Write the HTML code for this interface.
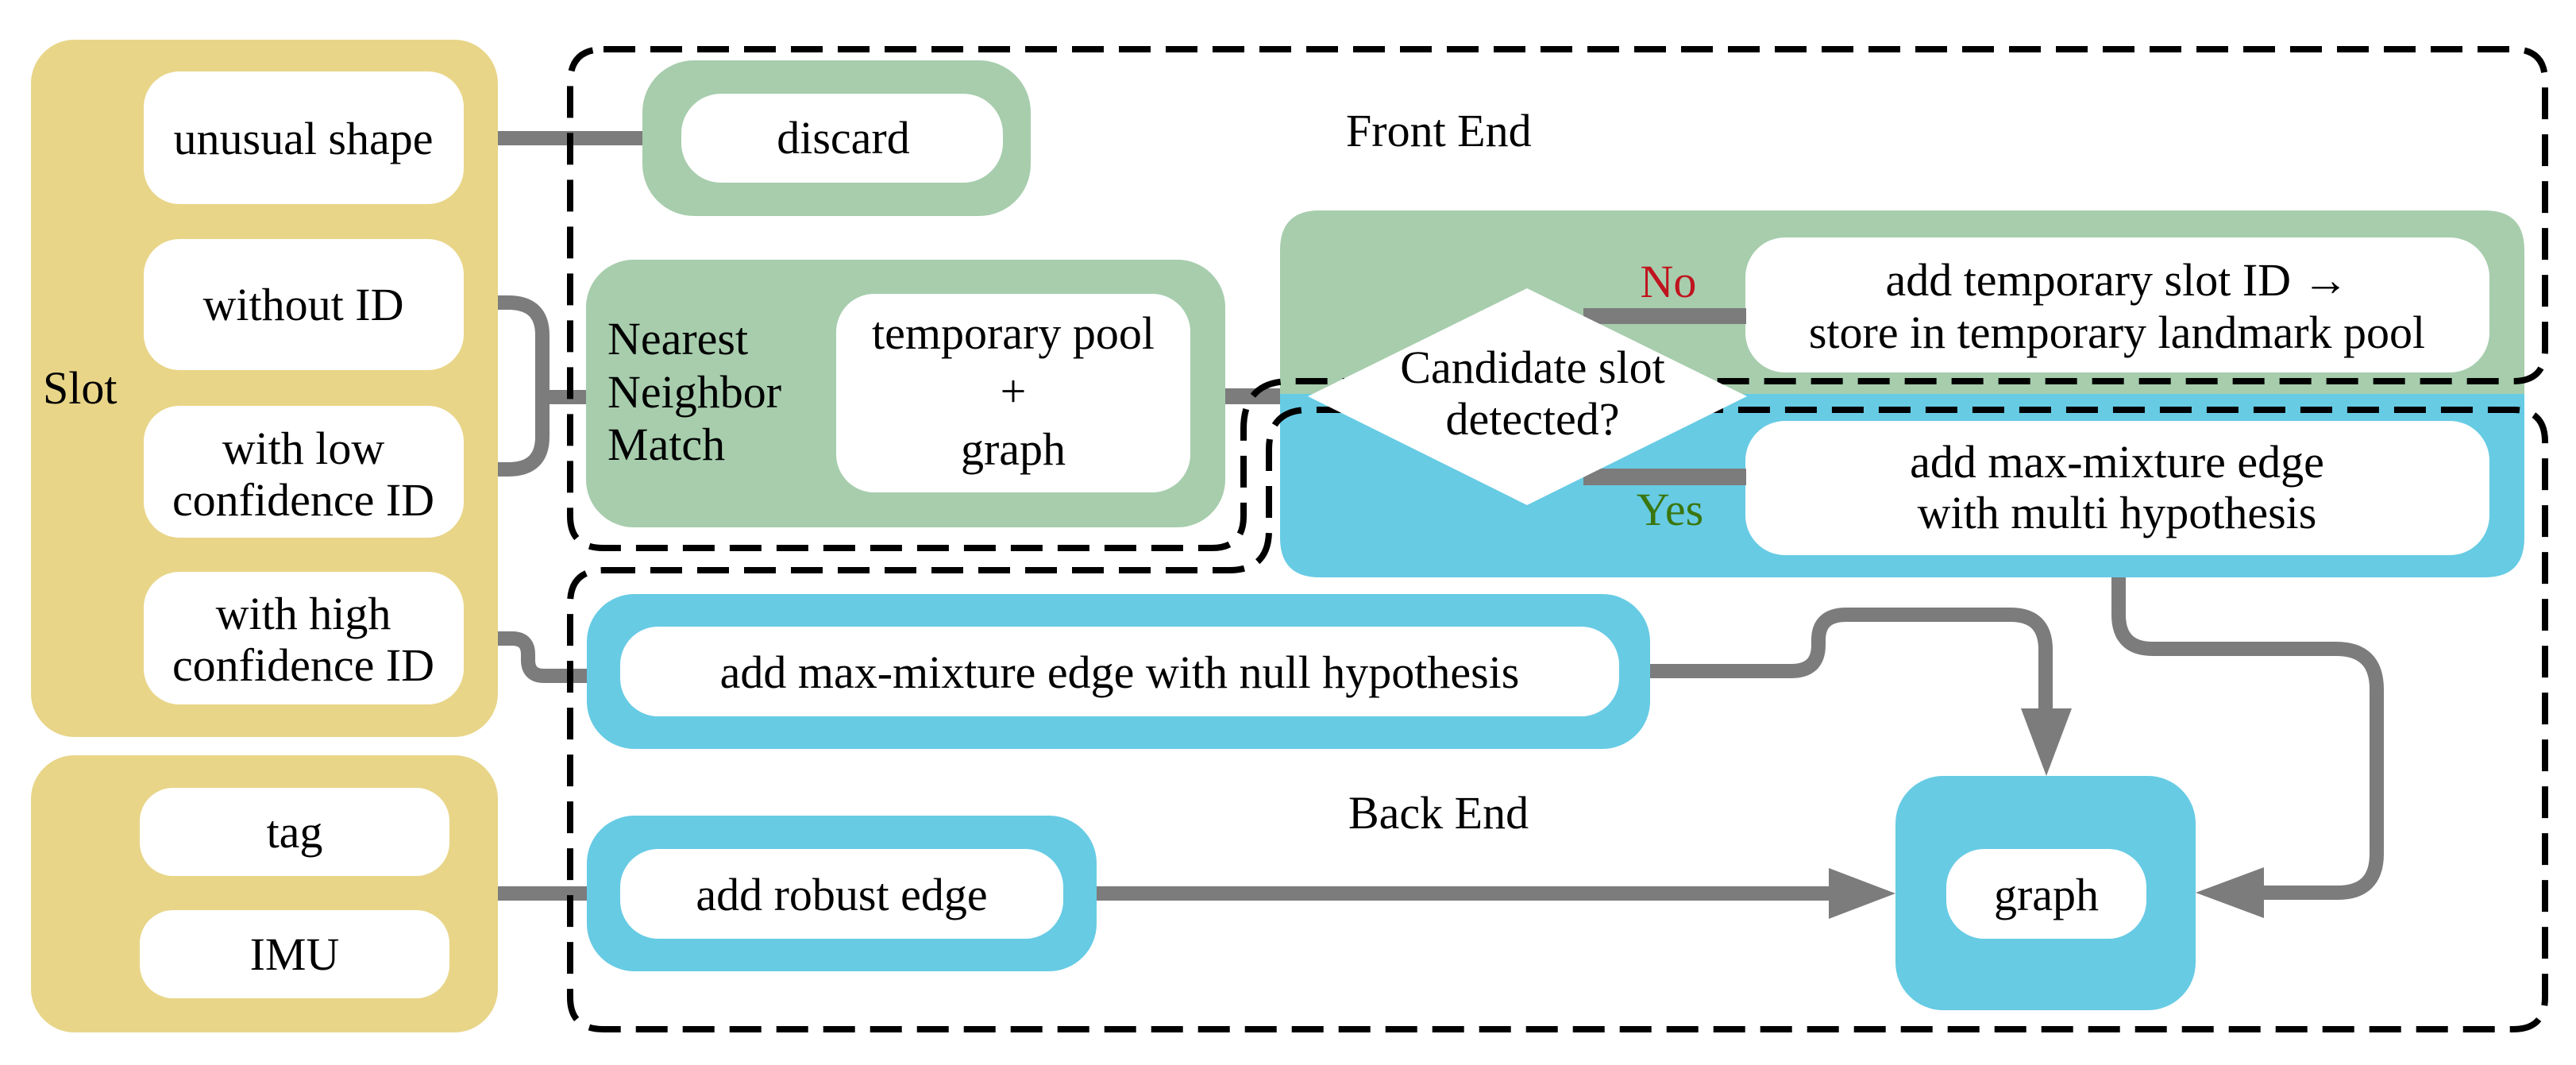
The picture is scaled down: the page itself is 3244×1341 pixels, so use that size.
<!DOCTYPE html>
<html><head><meta charset="utf-8"><style>
html,body{margin:0;padding:0;background:#fff;}
svg{display:block;}
svg text{font-family:"Liberation Serif","Noto Serif CJK SC","DejaVu Serif",serif;font-size:58px;fill:#000;}
</style></head><body>
<svg width="3244" height="1341" viewBox="0 0 3244 1341" xmlns="http://www.w3.org/2000/svg" font-family="Liberation Serif, Noto Serif CJK SC, DejaVu Serif, serif" font-size="58">
<rect x="39" y="50" width="588" height="878" rx="55" fill="#E8D588"/>
<rect x="39" y="951" width="588" height="349" rx="55" fill="#E8D588"/>
<rect x="181" y="90" width="403" height="167" rx="45" fill="#fff"/>
<rect x="181" y="301" width="403" height="165" rx="45" fill="#fff"/>
<rect x="181" y="511" width="403" height="166" rx="45" fill="#fff"/>
<rect x="181" y="720" width="403" height="167" rx="45" fill="#fff"/>
<rect x="176" y="992" width="390" height="111" rx="42" fill="#fff"/>
<rect x="176" y="1146" width="390" height="111" rx="42" fill="#fff"/>
<text x="54" y="508">Slot</text>
<text x="382" y="194" text-anchor="middle">unusual shape</text>
<text x="382" y="403" text-anchor="middle">without ID</text>
<text x="382" y="584" text-anchor="middle">with low</text>
<text x="382" y="649" text-anchor="middle">confidence ID</text>
<text x="382" y="792" text-anchor="middle">with high</text>
<text x="382" y="857" text-anchor="middle">confidence ID</text>
<text x="371" y="1067" text-anchor="middle">tag</text>
<text x="371" y="1221" text-anchor="middle">IMU</text>

<g fill="none" stroke="#7C7C7C" stroke-width="18">
<path d="M627,174 H809"/>
<path d="M627,381 H640 Q683,381 683,422 V550 Q683,591 640,591 H627"/>
<path d="M683,500 H739"/>
<path d="M627,804 H645 Q665,804 665,824 V831 Q665,851 685,851 H739"/>
<path d="M627,1125 H739"/>
<path d="M1540,499 H1650" stroke-width="20"/>
<path d="M1380,1125 H2310"/>
<path d="M2078,845 H2256 Q2290,845 2290,812 V806 Q2290,774 2325,774 H2532 Q2576,774 2576,818 V895"/>
<path d="M2668,695 V774 Q2668,817 2711,817 H2942 Q2993,817 2993,868 V1075 Q2993,1124 2944,1124 H2848"/>
</g>
<polygon points="2303,1093 2387,1125 2303,1157" fill="#7C7C7C"/>
<polygon points="2545,892 2609,892 2577,977" fill="#7C7C7C"/>
<polygon points="2851,1092 2765,1124 2851,1156" fill="#7C7C7C"/>

<rect x="809" y="76" width="489" height="196" rx="65" fill="#A7CDAD"/>
<rect x="858" y="118" width="405" height="112" rx="50" fill="#fff"/>
<text x="1062" y="193" text-anchor="middle">discard</text>

<rect x="738" y="327" width="805" height="337" rx="60" fill="#A7CDAD"/>
<rect x="1053" y="370" width="446" height="250" rx="48" fill="#fff"/>
<text x="765" y="446">Nearest</text>
<text x="765" y="513">Neighbor</text>
<text x="765" y="579">Match</text>
<text x="1276" y="439" text-anchor="middle">temporary pool</text>
<text x="1276" y="512" text-anchor="middle">+</text>
<text x="1276" y="585" text-anchor="middle">graph</text>

<path d="M1612,496 V315 Q1612,265 1662,265 H3129 Q3179,265 3179,315 V496 Z" fill="#A7CDAD"/>
<path d="M1612,496 V677 Q1612,727 1662,727 H3129 Q3179,727 3179,677 V496 Z" fill="#67CBE4"/>
<rect x="2198" y="299" width="937" height="170" rx="50" fill="#fff"/>
<rect x="2198" y="530" width="937" height="169" rx="50" fill="#fff"/>
<text x="2666" y="372" text-anchor="middle">add temporary slot ID →</text>
<text x="2666" y="438" text-anchor="middle">store in temporary landmark pool</text>
<text x="2666" y="601" text-anchor="middle">add max-mixture edge</text>
<text x="2666" y="665" text-anchor="middle">with multi hypothesis</text>
<rect x="1994" y="388" width="205" height="20" fill="#7C7C7C"/>
<rect x="1994" y="590" width="205" height="21" fill="#7C7C7C"/>
<text x="2101" y="374" text-anchor="middle" style="fill:#C0141E">No</text>
<text x="2103" y="661" text-anchor="middle" style="fill:#3A760E">Yes</text>

<rect x="739" y="748" width="1339" height="195" rx="60" fill="#67CBE4"/>
<rect x="781" y="789" width="1258" height="113" rx="48" fill="#fff"/>
<text x="1410" y="866" text-anchor="middle">add max-mixture edge with null hypothesis</text>

<rect x="739" y="1027" width="642" height="196" rx="60" fill="#67CBE4"/>
<rect x="781" y="1069" width="558" height="113" rx="48" fill="#fff"/>
<text x="1060" y="1146" text-anchor="middle">add robust edge</text>

<rect x="2387" y="977" width="378" height="295" rx="60" fill="#67CBE4"/>
<rect x="2451" y="1069" width="252" height="113" rx="48" fill="#fff"/>
<text x="2577" y="1146" text-anchor="middle">graph</text>

<g fill="none" stroke="#000" stroke-width="8" stroke-dasharray="40 19">
<path d="M760,62 H3165 Q3205,62 3205,102 V440 Q3205,480 3165,480 H1625 Q1566,480 1566,540 V650 Q1566,690 1526,690 H760 Q718,690 718,650 V104 Q718,62 760,62 Z"/>
<path d="M760,718 H1548 Q1598,718 1598,668 V566 Q1598,516 1648,516 H3165 Q3205,516 3205,556 V1256 Q3205,1296 3165,1296 H760 Q718,1296 718,1256 V760 Q718,718 760,718 Z"/>
</g>

<polygon points="1647,499 1923,363 2200,499 1923,636" fill="#fff"/>
<text x="1930" y="482" text-anchor="middle">Candidate slot</text>
<text x="1930" y="547" text-anchor="middle">detected?</text>

<text x="1695" y="184">Front End</text>
<text x="1698" y="1043">Back End</text>
</svg>
</body></html>
